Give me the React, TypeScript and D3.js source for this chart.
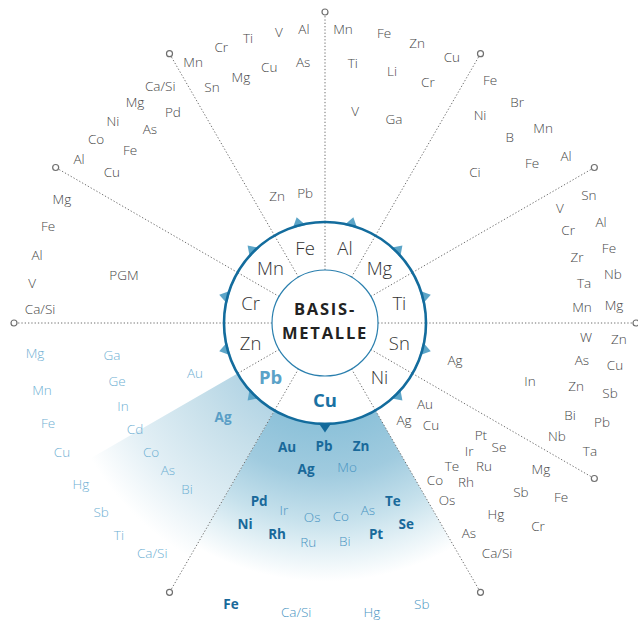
import React from 'react';
import * as d3 from 'd3';

const W = 638;
const H = 622;
const CX = 325;
const CY = 323;

// Base metals in the ring, with their mid angle (degrees, 0 = 3 o'clock, clockwise)
const ringMetals = ['Fe', 'Al', 'Mg', 'Ti', 'Sn', 'Ni', 'Cu', 'Pb', 'Zn', 'Cr', 'Mn'];
const ringMidAngles = [-105, -75, -45, -15, 15, 45, 90, 135, 165, -165, -135];
const ringDividers = [-90, -60, -30, 0, 30, 60, 120, 150, 180, -150, -120];
const spokeAngles = [-90, -60, -30, 0, 30, 60, 120, 180, -150, -120];
const centerTitle = ['BASIS-', 'METALLE'];

// Associated elements: [symbol, angle in degrees, distance from centre]
type Item = [string, number, number];

const feSector: Item[] = [
  ['Mn', -116.8, 292.5], ['Cr', -110.6, 294.9], ['Ti', -105.1, 295.2], ['V', -99.0, 294.6], ['Al', -94.1, 294.7],
  ['Sn', -115.6, 261.7], ['Mg', -108.9, 259.9], ['Cu', -102.3, 262.1], ['As', -94.8, 261.9],
  ['Zn', -110.7, 135.8], ['Pb', -98.7, 131.5],
];
const alSector: Item[] = [
  ['Mn', -86.5, 294.6], ['Fe', -78.5, 295.9], ['Zn', -71.8, 294.7], ['Cu', -64.5, 294.8],
  ['Ti', -83.9, 261.5], ['Li', -75.1, 260.8], ['Cr', -66.9, 262.1],
  ['V', -81.9, 214.1], ['Ga', -71.3, 215.4],
];
const mgSector: Item[] = [
  ['Fe', -55.8, 293.7], ['Br', -49.0, 292.8], ['Mn', -41.8, 292.5], ['Al', -34.7, 293.2],
  ['Ni', -53.3, 259.4], ['B', -45.2, 262.3], ['Fe', -37.7, 261.6],
  ['Ci', -45.2, 212.8],
];
const tiSector: Item[] = [
  ['Sn', -25.9, 293.4], ['V', -26.1, 261.6], ['Al', -20.1, 293.9], ['Cr', -20.9, 260.2],
  ['Fe', -14.8, 293.7], ['Zr', -14.7, 260.5], ['Nb', -9.7, 292.1], ['Ta', -8.8, 262.1],
  ['Mg', -3.6, 289.6], ['Mn', -3.6, 257.5],
];
const snSector: Item[] = [
  ['W', 3.1, 261.4], ['Zn', 3.1, 294.4], ['As', 8.2, 259.6], ['Cu', 8.2, 293.0],
  ['Zn', 14.1, 258.8], ['Sb', 13.8, 293.5], ['Ag', 15.9, 135.2], ['In', 15.8, 213.0],
  ['Bi', 20.6, 261.7], ['Pb', 19.7, 294.2], ['Nb', 26.0, 258.1], ['Ta', 25.8, 294.3],
];
const niSector: Item[] = [
  ['Au', 39.0, 128.7], ['Ag', 50.8, 125.1], ['Cu', 43.9, 147.1],
  ['Pt', 35.7, 192.0], ['Se', 35.5, 213.7], ['Ir', 41.6, 192.7], ['Te', 48.4, 191.3],
  ['Ru', 42.0, 213.8], ['Co', 55.0, 191.7], ['Rh', 48.4, 212.5], ['Mg', 34.1, 260.7],
  ['Os', 55.4, 215.0], ['Sb', 40.8, 258.8], ['Fe', 36.4, 293.2], ['Hg', 48.2, 256.4],
  ['Cr', 43.6, 294.2], ['As', 55.6, 254.6], ['Ca/Si', 53.2, 287.2],
];
const crSector: Item[] = [
  ['Mg', -154.8, 290.8], ['Fe', -160.7, 293.5], ['Al', -166.7, 295.9], ['V', -172.2, 295.7],
  ['Ca/Si', -177.2, 285.3], ['PGM', -166.6, 206.7],
];
const mnSector: Item[] = [
  ['Ca/Si', -124.8, 288.8], ['Mg', -130.7, 291.4], ['Pd', -125.8, 260.0], ['Ni', -136.4, 292.8],
  ['As', -132.1, 261.3], ['Co', -141.2, 293.8], ['Fe', -138.4, 260.7], ['Al', -146.3, 295.7],
  ['Cu', -144.7, 261.1],
];
// Copper sector: main by-products (bold) and minor ones
const cuMain: Item[] = [
  ['Au', 107.0, 129.7], ['Pb', 90.5, 123.0], ['Zn', 73.7, 128.2], ['Ag', 97.4, 147.2],
  ['Pd', 110.3, 189.8], ['Ni', 111.7, 216.3], ['Rh', 102.8, 216.4], ['Te', 69.1, 190.5],
  ['Se', 68.0, 216.7], ['Pt', 76.4, 217.1], ['Fe', 108.5, 296.3],
];
const cuMinor: Item[] = [
  ['Mo', 81.3, 145.7], ['Ir', 102.4, 191.4], ['Os', 93.8, 194.4], ['Co', 85.3, 193.7],
  ['As', 77.1, 191.9], ['Ru', 94.4, 219.7], ['Bi', 84.8, 218.9],
  ['Ca/Si', 95.7, 290.5], ['Hg', 80.8, 292.8], ['Sb', 71.0, 297.3],
];
// Lead / zinc sector
const pbMain: Item[] = [['Ag', 137.3, 138.7]];
const pbMinor: Item[] = [
  ['Mg', 174.1, 291.5], ['Ga', 171.5, 215.4], ['Au', 159.0, 139.3], ['Mn', 166.7, 290.8],
  ['Ge', 164.4, 215.9], ['In', 157.7, 218.4], ['Fe', 160.1, 294.5], ['Cd', 150.8, 217.6],
  ['Cu', 153.9, 292.9], ['Co', 143.4, 216.6], ['As', 136.9, 215.1], ['Hg', 146.6, 292.3],
  ['Bi', 129.7, 215.9], ['Sb', 139.8, 293.1], ['Ti', 134.2, 295.6], ['Ca/Si', 126.9, 287.8],
];

const grayItems = [
  ...feSector, ...alSector, ...mgSector, ...tiSector, ...snSector, ...niSector, ...crSector, ...mnSector,
];

const FONT = "'Open Sans', 'Noto Sans', sans-serif";
const R_INNER = 53;
const R_RING = 101;
const R_SPOKE = 311;

const rad = d3.scaleLinear().domain([0, 360]).range([0, 2 * Math.PI]);
const polar = (a: number, r: number): [number, number] => [r * Math.cos(rad(a)), r * Math.sin(rad(a))];

const wedge = d3.arc<any>();
// d3.arc angles: 0 at 12 o'clock; ours: 0 at 3 o'clock
const wedgePath = (a0: number, a1: number) =>
  wedge({ innerRadius: R_RING, outerRadius: R_SPOKE + 20, startAngle: rad(a0 + 90), endAngle: rad(a1 + 90) }) as string;

const styles = {
  gray: { fill: '#474747', fontWeight: 300 },
  cuMain: { fill: '#19699a', fontWeight: 700 },
  cuMinor: { fill: '#4a95c2', fontWeight: 300 },
  pbMain: { fill: '#5a9ec6', fontWeight: 700 },
  pbMinor: { fill: '#6fb0d3', fontWeight: 300 },
};

function Labels({ items, style }: { items: Item[]; style: { fill: string; fontWeight: number } }) {
  return (
    <g>
      {items.map(([s, a, r], i) => {
        const [x, y] = polar(a, r);
        return (
          <text key={i} x={x} y={y} dy="0.36em" textAnchor="middle" fontSize={13.5}
            fontFamily={FONT} fill={style.fill} fontWeight={style.fontWeight}>
            {s}
          </text>
        );
      })}
    </g>
  );
}

function triangle(a: number, up = 8.5, half = 3.8): string {
  const p1 = polar(a - half, R_RING - 1);
  const p2 = polar(a + half, R_RING - 1);
  const p3 = polar(a, R_RING + up);
  return `M${p1[0]},${p1[1]}L${p3[0]},${p3[1]}L${p2[0]},${p2[1]}Z`;
}

export default function App() {
  return (
    <svg width={W} height={H} viewBox={`0 0 ${W} ${H}`}
      style={{ position: 'absolute', left: 0, top: 0, display: 'block', background: '#fff' }}>
      <defs>
        <radialGradient id="cuGrad" gradientUnits="userSpaceOnUse" cx={0} cy={0} r={275}>
          <stop offset={0.364} stopColor="#8cc1d9" />
          <stop offset={0.55} stopColor="#a0cbdf" />
          <stop offset={0.72} stopColor="#c6e1ec" />
          <stop offset={0.83} stopColor="#e4f1f6" />
          <stop offset={0.94} stopColor="#ffffff" />
        </radialGradient>
        <radialGradient id="pbGrad" gradientUnits="userSpaceOnUse" cx={0} cy={0} r={285}>
          <stop offset={0.35} stopColor="#b4d5e5" />
          <stop offset={0.5} stopColor="#c6dfea" />
          <stop offset={0.76} stopColor="#e2eff5" />
          <stop offset={0.95} stopColor="#ffffff" />
        </radialGradient>
      </defs>
      <g transform={`translate(${CX},${CY})`}>
        <path d={wedgePath(60, 120)} fill="url(#cuGrad)" />
        <path d={wedgePath(120, 150)} fill="url(#pbGrad)" />

        {spokeAngles.map((a) => {
          const [x1, y1] = polar(a, R_RING);
          const [x2, y2] = polar(a, R_SPOKE - 3);
          const [cx, cy] = polar(a, R_SPOKE);
          return (
            <g key={a}>
              <line x1={x1} y1={y1} x2={x2} y2={y2} stroke="#6f6f6f" strokeWidth={1} strokeDasharray="1.3 2" />
              <circle cx={cx} cy={cy} r={3} fill="#fff" stroke="#6f6f6f" strokeWidth={1.2} />
            </g>
          );
        })}

        <circle r={R_RING} fill="#fff" />
        {ringDividers.map((a) => {
          const [x1, y1] = polar(a, R_INNER);
          const [x2, y2] = polar(a, R_RING);
          return <line key={a} x1={x1} y1={y1} x2={x2} y2={y2} stroke="#6f6f6f" strokeWidth={1} strokeDasharray="1.3 2" />;
        })}

        {ringMidAngles.map((a, i) => (
          <path key={i} d={triangle(a)} fill={ringMetals[i] === 'Cu' ? '#136a9b' : '#5ca5c8'} />
        ))}

        <circle r={R_RING} fill="none" stroke="#136c9d" strokeWidth={2.6} />
        <circle r={R_INNER} fill="#fff" stroke="#2a7fae" strokeWidth={1.2} />

        {ringMetals.map((m, i) => {
          const [x, y] = polar(ringMidAngles[i], 77);
          const isCu = m === 'Cu';
          const isPb = m === 'Pb';
          return (
            <text key={m} x={x} y={y} dy="0.36em" textAnchor="middle" fontFamily={FONT} fontSize={18.5}
              fontWeight={isCu || isPb ? 700 : 300}
              fill={isCu ? '#1a71a3' : isPb ? '#5aa2c8' : '#333'}>
              {m}
            </text>
          );
        })}

        {centerTitle.map((t, i) => (
          <text key={t} x={0} y={i === 0 ? -8 : 16} textAnchor="middle" fontFamily={FONT} fontSize={16.5}
            fontWeight={700} letterSpacing={1.8} fill="#222">
            {t}
          </text>
        ))}

        <Labels items={grayItems} style={styles.gray} />
        <Labels items={cuMain} style={styles.cuMain} />
        <Labels items={cuMinor} style={styles.cuMinor} />
        <Labels items={pbMain} style={styles.pbMain} />
        <Labels items={pbMinor} style={styles.pbMinor} />
      </g>
    </svg>
  );
}
